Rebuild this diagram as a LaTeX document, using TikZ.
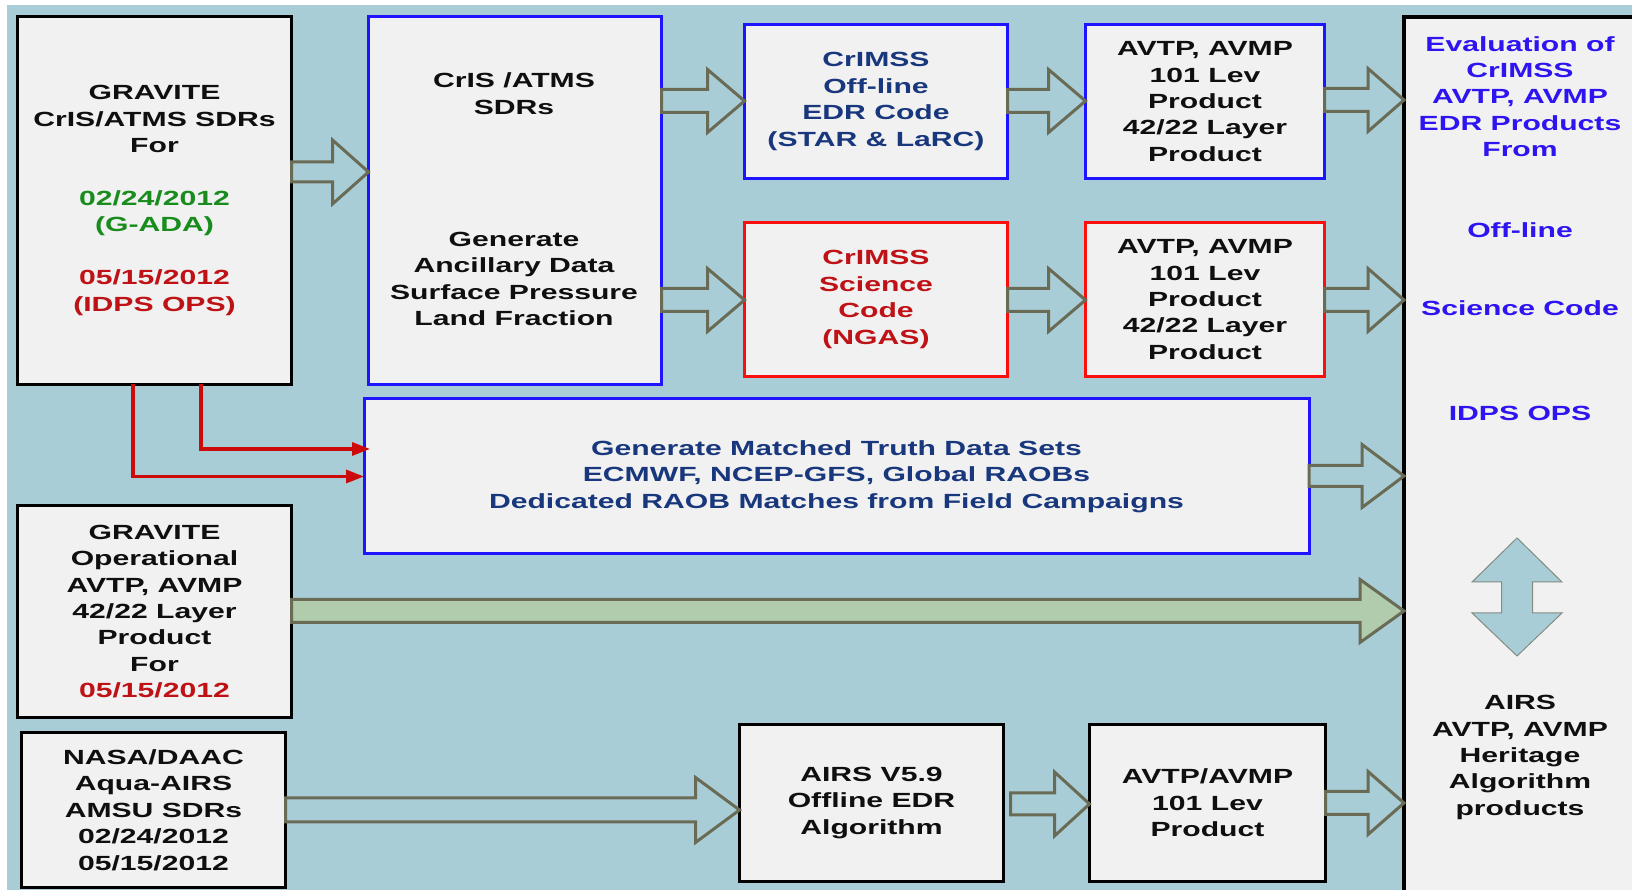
\documentclass[tikz,border=0pt]{standalone}
\usepackage{fontspec}
\setmainfont{Liberation Sans}[FakeStretch=1.47]
\usetikzlibrary{calc,arrows.meta}
\definecolor{bg}{RGB}{169,205,215}
\definecolor{boxfill}{RGB}{241,241,241}
\definecolor{bblue}{RGB}{30,20,255}
\definecolor{bred}{RGB}{250,15,15}
\definecolor{navy}{RGB}{25,55,125}
\definecolor{dred}{RGB}{190,18,22}
\definecolor{dgreen}{RGB}{25,140,30}
\definecolor{pblue}{RGB}{45,20,240}
\definecolor{olive}{RGB}{105,107,85}
\definecolor{agreen}{RGB}{176,204,172}
\definecolor{lred}{RGB}{205,10,10}
\definecolor{tblack}{RGB}{15,15,15}
\definecolor{dagray}{RGB}{130,140,130}
\tikzset{
 box/.style={draw=black, line width=3.2pt, fill=boxfill, inner sep=0pt, outer sep=0pt, align=center, text=tblack, font=\bfseries\fontsize{20.5}{26.4}\selectfont},
 bluebox/.style={box, draw=bblue, line width=3pt},
 redbox/.style={box, draw=bred, line width=3pt},
 txt/.style={align=center, inner sep=0pt, text=tblack, font=\bfseries\fontsize{20.5}{26.4}\selectfont},
 barrow/.style={draw=olive, line width=3pt, fill=bg, line join=miter},
 garrow/.style={barrow, fill=agreen},
 redline/.style={draw=lred, line width=3.2pt, -{Triangle[length=18pt,width=13pt]}},
 dblarrow/.style={draw=dagray, line width=1pt, fill=bg},
}
% block arrow: style, from, to, y, head length, shaft half width, head half width
\newcommand\blockarrow[7][barrow]{%
 \draw[#1] let \p1=(#2), \p2=(#3) in
 (\x1,#4+#6) -- (\x2-#5,#4+#6) -- (\x2-#5,#4+#7) -- (\x2,#4) -- (\x2-#5,#4-#7) -- (\x2-#5,#4-#6) -- (\x1,#4-#6) -- cycle;}
\begin{document}
\begin{tikzpicture}[x=1pt,y=1pt]
\clip (0,0) rectangle (1632,890);
\fill[white] (0,0) rectangle (1632,890);
\fill[bg] (7,0) rectangle (1632,885);

% boxes
\node[box, minimum width=274, minimum height=368] (A) at (154.5,689.5)
 {GRAVITE\\CrIS/ATMS SDRs\\For\\[26.4pt]
 {\color{dgreen}02/24/2012}\\{\color{dgreen}(G-ADA)}\\[26.4pt]
 {\color{dred}05/15/2012}\\{\color{dred}(IDPS OPS)}};
\node[bluebox, minimum width=293, minimum height=368] (B) at (515,689.5) {};
\node[txt] (Bt) at (514,796.5) {CrIS /ATMS\\SDRs};
\node[txt] (Bb) at (514,611) {Generate\\Ancillary Data\\Surface Pressure\\Land Fraction};
\node[bluebox, minimum width=263, minimum height=154, text=navy] (C) at (876,788.5)
 {CrIMSS\\Off-line\\EDR Code\\(STAR \& LaRC)};
\node[bluebox, minimum width=239, minimum height=154] (D) at (1205,788.5)
 {AVTP, AVMP\\101 Lev\\Product\\42/22 Layer\\Product};
\node[redbox, minimum width=263, minimum height=154, text=dred] (E) at (876,590.5)
 {CrIMSS\\Science\\Code\\(NGAS)};
\node[redbox, minimum width=239, minimum height=154] (F) at (1205,590.5)
 {AVTP, AVMP\\101 Lev\\Product\\42/22 Layer\\Product};
\node[bluebox, minimum width=945, minimum height=155, text=navy] (G) at (836.5,413.5)
 {Generate Matched Truth Data Sets\\ECMWF, NCEP-GFS, Global RAOBs\\Dedicated RAOB Matches from Field Campaigns};
\node[box, minimum width=274, minimum height=212] (H) at (154.5,278.5)
 {GRAVITE\\Operational\\AVTP, AVMP\\42/22 Layer\\Product\\For\\{\color{dred}05/15/2012}};
\node[box, minimum width=264, minimum height=155] (I) at (153.5,80)
 {NASA/DAAC\\Aqua-AIRS\\AMSU SDRs\\02/24/2012\\05/15/2012};
\node[box, minimum width=264, minimum height=157] (J) at (871.5,87)
 {AIRS V5.9\\Offline EDR\\Algorithm};
\node[box, minimum width=236, minimum height=157] (K) at (1207.5,87)
 {AVTP/AVMP\\101 Lev\\Product};
\node[box, minimum width=256, minimum height=893] (P) at (1532,426.5) {};

% right panel texts
\node[txt, text=pblue] (P1) at (1520,793.5) {Evaluation of\\CrIMSS\\AVTP, AVMP\\EDR Products\\From};
\node[txt, text=pblue] (P2) at (1520,660) {Off-line};
\node[txt, text=pblue] (P3) at (1520,582) {Science Code};
\node[txt, text=pblue] (P4) at (1520,477) {IDPS OPS};
\node[txt] (P5) at (1520,132.5) {AIRS\\AVTP, AVMP\\Heritage\\Algorithm\\products};

% double arrow
\draw[dblarrow] (1517,352) -- (1562,308) -- (1532.5,308) -- (1532.5,277) -- (1562,277)
 -- (1517,234) -- (1472,277) -- (1501.5,277) -- (1501.5,308) -- (1472,308) -- cycle;

% block arrows
\blockarrow{A.east}{B.west}{718}{36}{10}{32}
\blockarrow{B.east}{C.west}{789}{37}{11.5}{31.5}
\blockarrow{B.east}{E.west}{590}{37}{11.5}{31.5}
\blockarrow{C.east}{D.west}{789}{37}{11.5}{31.5}
\blockarrow{E.east}{F.west}{590}{37}{11.5}{31.5}
\blockarrow{D.east}{P.west}{790}{36}{11.5}{31.5}
\blockarrow{F.east}{P.west}{590}{36}{11.5}{31.5}
\blockarrow{G.east}{P.west}{414}{42}{10.5}{31.5}
\blockarrow[garrow]{H.east}{P.west}{279}{44}{11.5}{31.5}
\blockarrow{I.east}{J.west}{80}{44}{12}{32.5}
\blockarrow{[xshift=7pt]J.east}{K.west}{86}{35}{11}{32}
\blockarrow{K.east}{P.west}{87}{36}{11.5}{31.5}

% red connectors
\draw[redline] ([xshift=-21.5pt]A.south) |- (G.west);
\draw[redline] ([xshift=46.5pt]A.south) |- ([xshift=6pt,yshift=27.5pt]G.west);
\end{tikzpicture}
\end{document}
